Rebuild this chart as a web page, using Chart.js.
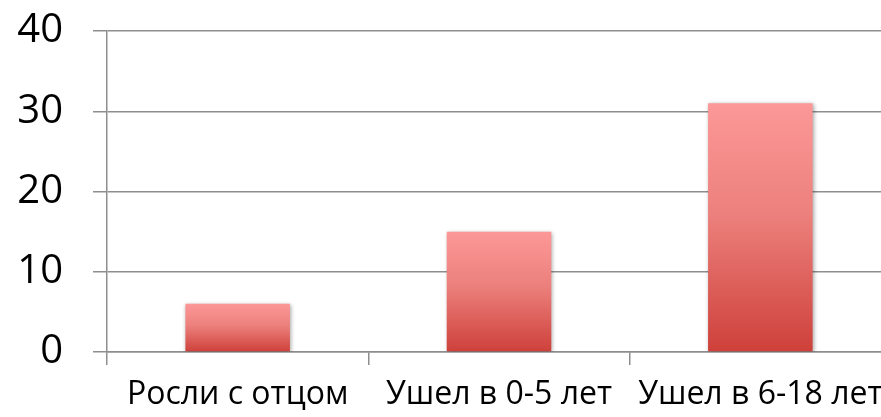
<!DOCTYPE html>
<html>
<head>
<meta charset="utf-8">
<script src="https://cdn.jsdelivr.net/npm/chart.js@4"></script>
<style>
  html, body { margin: 0; padding: 0; background: #fff; overflow: hidden; }
  #wrap { width: 895px; height: 417px; }
</style>
</head>
<body>
<div id="wrap"><canvas id="chart" width="895" height="417"></canvas></div>
<script>
const categories = ['Росли с отцом', 'Ушел в 0-5 лет', 'Ушел в 6-18 лет']
const values = [6, 15, 31]
const yTicks = [0, 10, 20, 30, 40]

const fontFamily = '"Open Sans", "Noto Sans", sans-serif'
const gridColor = '#8e8e8e'

// per-bar vertical gradient, light pink on top to red at the base
function barGradient(context) {
  const chart = context.chart
  const { ctx, chartArea, scales } = chart
  if (!chartArea) return '#e57373'
  const top = scales.y.getPixelForValue(context.raw)
  const bottom = scales.y.getPixelForValue(0)
  const g = ctx.createLinearGradient(0, top, 0, bottom)
  g.addColorStop(0, 'rgb(252, 152, 152)')
  g.addColorStop(0.45, 'rgb(236, 128, 124)')
  g.addColorStop(1, 'rgb(206, 64, 58)')
  return g
}

const barShadow = {
  id: 'barShadow',
  beforeDatasetsDraw(chart) {
    const ctx = chart.ctx
    ctx.save()
    ctx.shadowColor = 'rgba(0, 0, 0, 0.35)'
    ctx.shadowBlur = 4
    ctx.shadowOffsetX = 1
    ctx.shadowOffsetY = 1
  },
  afterDatasetsDraw(chart) {
    chart.ctx.restore()
  }
}

new Chart(document.getElementById('chart'), {
  type: 'bar',
  data: {
    labels: categories,
    datasets: [{
      data: values,
      backgroundColor: barGradient,
      borderWidth: 0,
      categoryPercentage: 0.4,
      barPercentage: 1
    }]
  },
  options: {
    responsive: false,
    animation: false,
    layout: { padding: { top: 31, right: 4, left: 0, bottom: 0 } },
    plugins: {
      legend: { display: false },
      tooltip: { enabled: false }
    },
    scales: {
      x: {
        offset: true,
        grid: {
          offset: true,
          drawOnChartArea: false,
          drawTicks: true,
          tickLength: 13,
          color: gridColor,
          lineWidth: 1.5
        },
        border: { display: true, color: gridColor, width: 1.5 },
        ticks: {
          color: '#000',
          padding: 11,
          maxRotation: 0,
          autoSkip: false,
          font: { family: fontFamily, size: 32 }
        },
        afterFit(scale) {
          scale.height = 65
          scale.paddingLeft = 0
          scale.paddingRight = 0
        }
      },
      y: {
        min: 0,
        max: 40,
        afterBuildTicks(scale) { scale.ticks = yTicks.map(v => ({ value: v })) },
        grid: {
          color: gridColor,
          lineWidth: 1.5,
          tickLength: 14
        },
        border: { display: true, color: gridColor, width: 1.5 },
        ticks: {
          color: '#000',
          padding: 30,
          font: { family: fontFamily, size: 40 }
        },
        afterFit(scale) {
          scale.width = 107
          scale.paddingTop = 0
          scale.paddingBottom = 0
        }
      }
    }
  },
  plugins: [barShadow]
})
</script>
</body>
</html>
